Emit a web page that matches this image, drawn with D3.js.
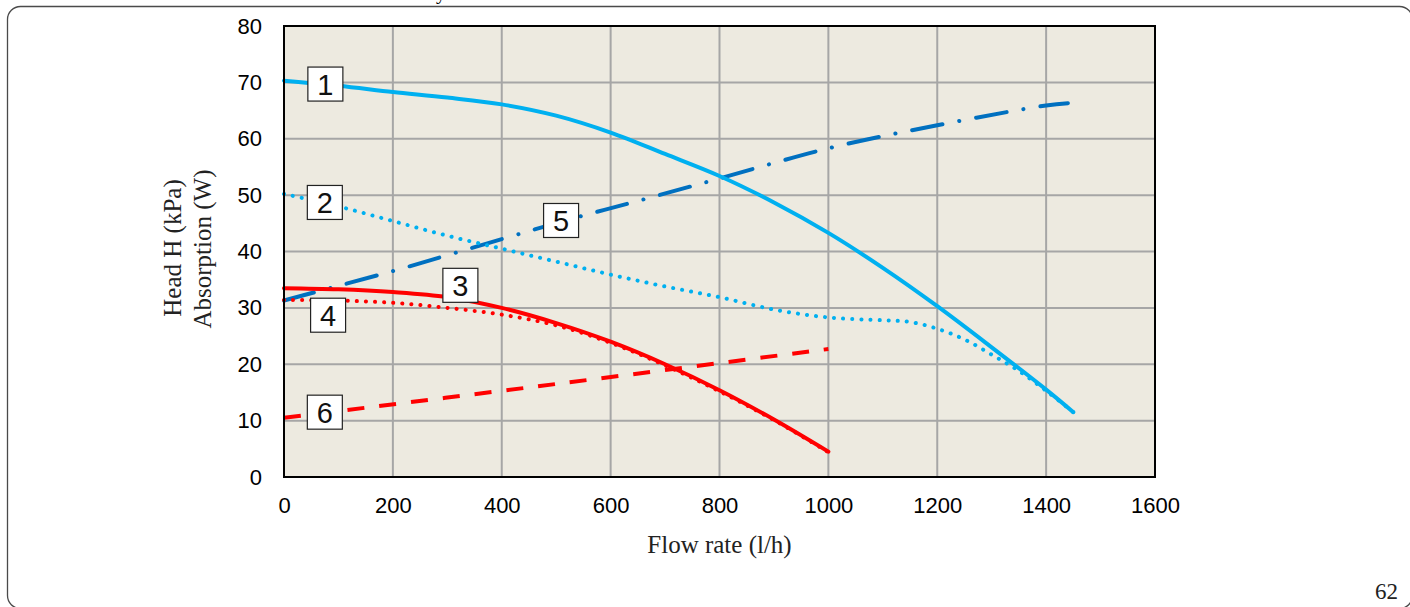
<!DOCTYPE html>
<html>
<head>
<meta charset="utf-8">
<script src="https://cdn.jsdelivr.net/npm/d3@7"></script>
<style>
  html, body { margin: 0; padding: 0; background: #ffffff; }
  svg { display: block; }
</style>
</head>
<body>
<div id="chart"></div>
<script>
// ---- data ----
const xTicks = [0, 200, 400, 600, 800, 1000, 1200, 1400, 1600];
const yTicks = [0, 10, 20, 30, 40, 50, 60, 70, 80];

// 1: head curve (solid light blue)
const flow1 = [0, 100, 200, 300, 400, 500, 600, 700, 800, 900, 1000, 1100, 1200, 1300, 1400, 1450];
const val1  = [70.3, 69.4, 68.3, 67.3, 66.1, 64.1, 61.1, 57.3, 53.4, 48.7, 43.3, 37.1, 30.3, 23.0, 15.5, 11.5];

// 2: head curve (dotted light blue)
const flow2 = [0, 100, 200, 300, 400, 500, 600, 700, 800, 900, 1000, 1100, 1150, 1200, 1250, 1300, 1350, 1400, 1450];
const val2  = [50.2, 48.0, 45.4, 42.8, 40.5, 38.2, 35.9, 33.8, 31.9, 29.7, 28.3, 27.8, 27.5, 26.3, 24.4, 21.7, 18.8, 15.3, 11.5];

// 3: head curve (solid red)
const flow3 = [0, 100, 200, 300, 400, 500, 600, 700, 800, 900, 1000];
const val3  = [33.5, 33.3, 32.8, 31.9, 30.0, 27.3, 24.0, 20.0, 15.4, 10.2, 4.5];

// 4: head curve (dotted red)
const flow4 = [0, 100, 200, 300, 400, 500, 600, 700, 800, 900, 1000];
const val4  = [31.4, 31.3, 30.9, 30.0, 28.8, 26.9, 23.8, 19.8, 15.2, 10.1, 4.4];

// 5: absorption curve (dash-dot blue)
const flow5 = [0, 88, 210, 400, 543, 636, 787, 1000, 1200, 1400, 1440];
const val5  = [31.3, 33.6, 36.8, 42.2, 46.2, 48.6, 52.6, 58.3, 62.4, 65.9, 66.3];

// 6: absorption curve (dashed red)
const flow6 = [0, 500, 1000];
const val6  = [10.5, 16.5, 22.7];

// curve label boxes: [label, flow, value]
const labelText  = ["1", "2", "3", "4", "5", "6"];
const labelFlow  = [76, 75, 324, 81, 509, 75];
const labelValue = [69.7, 48.7, 34.0, 28.7, 45.5, 11.5];

const xTitle = "Flow rate (l/h)";
const yTitle1 = "Head H (kPa)";
const yTitle2 = "Absorption (W)";
const pageNumber = "62";

// ---- drawing ----
const W = 1410, H = 607;
const svg = d3.select("#chart").append("svg").attr("width", W).attr("height", H);

// page frame
svg.append("rect")
  .attr("x", 7.5).attr("y", 6.5).attr("width", 1405).attr("height", 602)
  .attr("rx", 13).attr("ry", 13)
  .attr("fill", "none").attr("stroke", "#4a4a4a").attr("stroke-width", 1.3);

// fragment of preceding caption text cut at the top (cut off in the reference too)
svg.append("text").attr("x", 436).attr("y", -1)
  .attr("font-family", "Liberation Serif").attr("font-size", 20).text("y");

const x = d3.scaleLinear().domain([0, 1600]).range([284, 1155]);
const y = d3.scaleLinear().domain([0, 80]).range([477, 26]);

// plot background
svg.append("rect")
  .attr("x", x(0)).attr("y", y(80))
  .attr("width", x(1600) - x(0)).attr("height", y(0) - y(80))
  .attr("fill", "#EDEAE0");

// grid
const grid = svg.append("g").attr("stroke", "#A6A6A6").attr("stroke-width", 2);
grid.selectAll("line.v").data(xTicks).join("line")
  .attr("x1", d => x(d)).attr("x2", d => x(d))
  .attr("y1", y(0)).attr("y2", y(80));
grid.selectAll("line.h").data(yTicks).join("line")
  .attr("x1", x(0)).attr("x2", x(1600))
  .attr("y1", d => y(d)).attr("y2", d => y(d));

// axes labels
const xAxis = d3.axisBottom(x).tickValues(xTicks).tickSize(0).tickPadding(20).tickFormat(d3.format("d"));
const yAxis = d3.axisLeft(y).tickValues(yTicks).tickSize(0).tickPadding(22).tickFormat(d3.format("d"));
const gx = svg.append("g").attr("transform", `translate(0,${y(0)})`).call(xAxis);
const gy = svg.append("g").attr("transform", `translate(${x(0)},0)`).call(yAxis);
[gx, gy].forEach(g => {
  g.select(".domain").remove();
  g.selectAll("text").attr("font-family", "Liberation Sans, Arial, sans-serif")
    .attr("font-size", 22).attr("fill", "#000");
});

// curves
const line = d3.line().x(d => x(d[0])).y(d => y(d[1])).curve(d3.curveCatmullRom.alpha(0.5));
const zip = (a, b) => a.map((v, i) => [v, b[i]]);

const curves = svg.append("g").attr("fill", "none");
function drawCurve(data, color, width, dash, cap) {
  curves.append("path").datum(data).attr("d", line)
    .attr("stroke", color).attr("stroke-width", width)
    .attr("stroke-dasharray", dash || null)
    .attr("stroke-linecap", cap || "round")
    .attr("stroke-linejoin", "round");
}
drawCurve(zip(flow6, val6), "#FF0000", 4, "17 15", "butt");
drawCurve(zip(flow5, val5), "#0070C0", 4, "31 17 0.1 17", "round");
drawCurve(zip(flow2, val2), "#00B0F0", 4, "0.1 9", "round");
drawCurve(zip(flow1, val1), "#00B0F0", 4, null, "round");
drawCurve(zip(flow4, val4), "#FF0000", 4, "0.1 9", "round");
drawCurve(zip(flow3, val3), "#FF0000", 4, null, "round");

// plot border
svg.append("rect")
  .attr("x", x(0)).attr("y", y(80))
  .attr("width", x(1600) - x(0)).attr("height", y(0) - y(80))
  .attr("fill", "none").attr("stroke", "#000").attr("stroke-width", 2);

// label boxes
const lbl = svg.append("g").selectAll("g").data(labelText).join("g")
  .attr("transform", (d, i) => `translate(${x(labelFlow[i])},${y(labelValue[i])})`);
lbl.append("rect").attr("x", -17.5).attr("y", -17).attr("width", 35).attr("height", 34)
  .attr("fill", "#fff").attr("stroke", "#222").attr("stroke-width", 1.2);
lbl.append("text").attr("text-anchor", "middle").attr("dy", "0.36em")
  .attr("font-family", "Liberation Sans, Arial, sans-serif").attr("font-size", 29)
  .attr("fill", "#111").text(d => d);

// axis titles
svg.append("text").attr("x", (x(0) + x(1600)) / 2).attr("y", 553)
  .attr("text-anchor", "middle")
  .attr("font-family", "Liberation Serif, serif").attr("font-size", 25)
  .attr("fill", "#222").text(xTitle);
svg.append("text").attr("transform", "translate(181,248) rotate(-90)")
  .attr("text-anchor", "middle")
  .attr("font-family", "Liberation Serif, serif").attr("font-size", 25)
  .attr("fill", "#222").text(yTitle1);
svg.append("text").attr("transform", "translate(211,249) rotate(-90)")
  .attr("text-anchor", "middle")
  .attr("font-family", "Liberation Serif, serif").attr("font-size", 25)
  .attr("fill", "#222").text(yTitle2);

// page number
svg.append("text").attr("x", 1398).attr("y", 599).attr("text-anchor", "end")
  .attr("font-family", "Liberation Serif, serif").attr("font-size", 23)
  .attr("fill", "#222").text(pageNumber);
</script>
</body>
</html>
